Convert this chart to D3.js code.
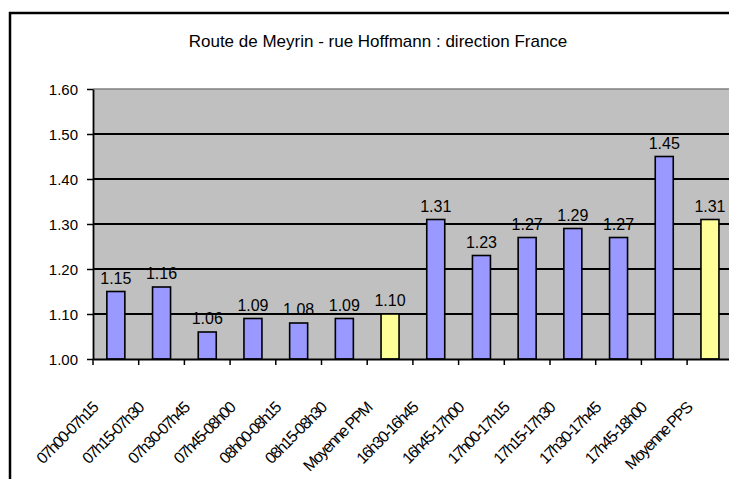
<!DOCTYPE html>
<html><head><meta charset="utf-8">
<script src="https://cdn.jsdelivr.net/npm/d3@7"></script>
<style>body{margin:0;background:#fff}svg{display:block;font-family:"Liberation Sans",Arial,sans-serif}</style>
</head><body><svg id="c" width="729" height="479"></svg>
<script>
const title = "Route de Meyrin - rue Hoffmann : direction France";
const categories = ["07h00-07h15","07h15-07h30","07h30-07h45","07h45-08h00","08h00-08h15","08h15-08h30","Moyenne PPM","16h30-16h45","16h45-17h00","17h00-17h15","17h15-17h30","17h30-17h45","17h45-18h00","Moyenne PPS"];
const values = [1.15,1.16,1.06,1.09,1.08,1.09,1.10,1.31,1.23,1.27,1.29,1.27,1.45,1.31];
const isAverage = [false,false,false,false,false,false,true,false,false,false,false,false,false,true];
const yTicks = [1.00,1.10,1.20,1.30,1.40,1.50,1.60];

const svg = d3.select("#c");
const L = 93, T = 89, B = 359, bandW = 45.7;
const R = L + bandW * categories.length;

// outer frame
svg.append("rect").attr("x",10).attr("y",13).attr("width",740).attr("height",480)
  .attr("fill","#fff").attr("stroke","#000").attr("stroke-width",2.5);

svg.append("text").attr("x",378).attr("y",47).attr("text-anchor","middle")
  .attr("font-size",17).attr("fill","#000").text(title);

const x = d3.scaleBand().domain(categories).range([L,R]);
const y = d3.scaleLinear().domain([1.0,1.6]).range([B,T]);

svg.append("rect").attr("x",L).attr("y",T).attr("width",R-L).attr("height",B-T).attr("fill","#C0C0C0");

// gridlines
svg.append("g").selectAll("line").data(yTicks.filter(d=>d>1.0 && d<1.6)).join("line")
  .attr("x1",L).attr("x2",R).attr("y1",d=>y(d)).attr("y2",d=>y(d))
  .attr("stroke","#000").attr("stroke-width",1.8);
svg.append("line").attr("x1",L).attr("x2",R).attr("y1",T).attr("y2",T).attr("stroke","#808080").attr("stroke-width",1.5);

// bars
const bw = 18;
svg.append("g").selectAll("rect").data(values).join("rect")
  .attr("x",(d,i)=>x(categories[i]) + x.bandwidth()/2 - bw/2)
  .attr("y",d=>y(d)).attr("width",bw).attr("height",d=>B-y(d))
  .attr("fill",(d,i)=>isAverage[i] ? "#FFFF99" : "#9999FF")
  .attr("stroke","#000").attr("stroke-width",1.6);

// data labels
svg.append("g").selectAll("text").data(values).join("text")
  .attr("x",(d,i)=>x(categories[i]) + x.bandwidth()/2)
  .attr("y",d=>y(d)-8).attr("text-anchor","middle").attr("font-size",16)
  .attr("fill","#000").text(d=>d.toFixed(2));

// y axis
const yAxis = d3.axisLeft(y).tickValues(yTicks).tickFormat(d3.format(".2f")).tickSize(6).tickSizeOuter(0);
const gy = svg.append("g").attr("transform",`translate(${L},0)`).call(yAxis);
gy.select(".domain").attr("stroke","#000").attr("stroke-width",1.8);
gy.selectAll(".tick line").attr("stroke","#000").attr("stroke-width",1.5);
gy.selectAll(".tick text").attr("font-size",15).attr("font-family","Liberation Sans, Arial, sans-serif")
  .attr("fill","#000").attr("x",-15).attr("dy","0.36em");

// x axis
const xAxis = d3.axisBottom(x).tickSize(0).tickSizeOuter(0);
const gx = svg.append("g").attr("transform",`translate(0,${B})`).call(xAxis);
gx.select(".domain").attr("stroke","#000").attr("stroke-width",1.8);
gx.selectAll(".tick text").attr("font-size",16).attr("font-family","Liberation Sans, Arial, sans-serif")
  .attr("letter-spacing","-1.4px")
  .attr("fill","#000").attr("text-anchor","end").attr("dy",null).attr("y",null)
  .attr("transform","translate(-17,50) rotate(-45)");
// boundary ticks
svg.append("g").selectAll("line").data(categories).join("line")
  .attr("x1",d=>x(d)).attr("x2",d=>x(d)).attr("y1",B).attr("y2",B+6)
  .attr("stroke","#000").attr("stroke-width",1.5);
</script></body></html>
